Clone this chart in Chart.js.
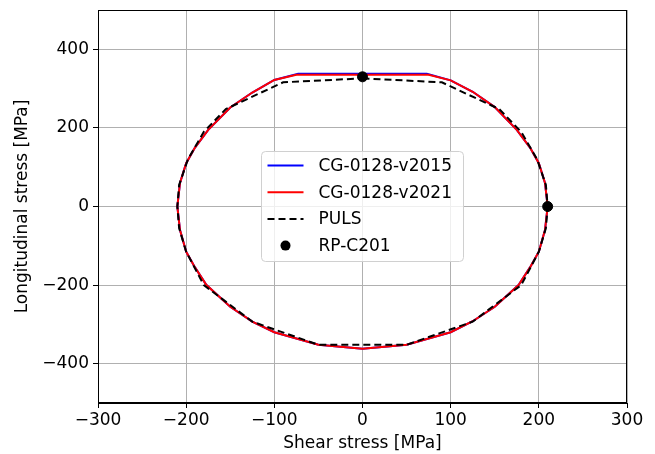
<!DOCTYPE html>
<html>
<head>
<meta charset="utf-8">
<script src="https://cdn.jsdelivr.net/npm/chart.js@4"></script>
<style>
  html, body { margin: 0; padding: 0; background: #fff; }
  #wrap { width: 655px; height: 454px; }
</style>
</head>
<body>
<div id="wrap"><canvas id="chart"></canvas></div>
<script>
// shear stress (x), longitudinal stress (y), MPa
const v2015X = [0, 73, 100, 125, 150, 175, 190, 200, 207, 210, 207, 200, 190, 177, 150, 125, 100, 50, 0, -50, -100, -125, -150, -177, -190, -200, -207, -210, -207, -200, -190, -175, -150, -125, -100, -73, 0];
const v2015Y = [338, 338, 321, 292, 253, 195, 150, 110, 60, 0, -60, -115, -155, -200, -255, -292, -320, -352, -362, -352, -320, -293, -255, -200, -155, -115, -60, 0, 60, 110, 150, 195, 252, 290, 322, 338, 338];

const v2021X = [0, 75, 100, 125, 150, 175, 190, 200, 207, 210, 207, 200, 190, 177, 150, 125, 100, 50, 0, -50, -100, -125, -150, -177, -190, -200, -207, -210, -207, -200, -190, -175, -150, -125, -100, -75, 0];
const v2021Y = [335, 335, 321, 292, 253, 195, 150, 110, 60, 0, -60, -115, -155, -200, -255, -292, -320, -352, -362, -352, -320, -293, -255, -200, -155, -115, -60, 0, 60, 110, 150, 195, 252, 290, 322, 335, 335];

const pulsX = [0, 90, 155, 180, 198, 208, 210, 208, 200, 180, 125, 50, -50, -125, -180, -200, -208, -210, -208, -198, -180, -155, -90, 0];
const pulsY = [326, 316, 248, 190, 120, 55, 0, -55, -115, -200, -293, -352, -352, -293, -200, -115, -55, 0, 55, 120, 190, 248, 316, 326];

const rpX = [0, 210];
const rpY = [330, 0];

const xTicks = [-300, -200, -100, 0, 100, 200, 300];
const yTicks = [-400, -200, 0, 200, 400];

const pts = (xs, ys) => xs.map((x, i) => ({ x: x, y: ys[i] }));
const FONT = "'DejaVu Sans', sans-serif";
const minus = v => String(v).replace('-', '\u2212');

const frame = {
  id: 'frame',
  afterDatasetsDraw(chart) {
    const { ctx, chartArea: a } = chart;
    ctx.save();
    ctx.strokeStyle = '#000';
    ctx.lineWidth = 1;
    ctx.strokeRect(a.left + 0.5, a.top + 0.5, a.right - a.left - 1, a.bottom - a.top - 1);
    ctx.restore();
  }
};

const legendBox = {
  id: 'legendBox',
  afterDraw(chart) {
    const { ctx, chartArea: a } = chart;
    const w = 202, h = 110;
    const cx = (a.left + a.right) / 2, cy = (a.top + a.bottom) / 2;
    const x0 = cx - w / 2, y0 = cy - h / 2;
    ctx.save();
    ctx.beginPath();
    ctx.roundRect(x0, y0, w, h, 4);
    ctx.fillStyle = 'rgba(255,255,255,0.8)';
    ctx.fill();
    ctx.strokeStyle = '#d0d0d0';
    ctx.lineWidth = 1;
    ctx.stroke();
    ctx.font = '17px ' + FONT;
    ctx.textBaseline = 'middle';
    chart.data.datasets.forEach((ds, i) => {
      const y = y0 + 14 + i * 26.7;
      ctx.strokeStyle = ds.borderColor;
      ctx.fillStyle = ds.borderColor;
      ctx.lineWidth = 2;
      if (ds.showLine) {
        ctx.setLineDash(ds.borderDash || []);
        ctx.beginPath();
        ctx.moveTo(x0 + 6, y);
        ctx.lineTo(x0 + 42, y);
        ctx.stroke();
        ctx.setLineDash([]);
      } else {
        ctx.beginPath();
        ctx.arc(x0 + 24, y, 5, 0, Math.PI * 2);
        ctx.fill();
      }
      ctx.fillStyle = '#000';
      ctx.fillText(ds.label, x0 + 57, y + 1);
    });
    ctx.restore();
  }
};

new Chart(document.getElementById('chart'), {
  type: 'scatter',
  data: {
    datasets: [
      { label: 'CG-0128-v2015', data: pts(v2015X, v2015Y), showLine: true, borderColor: '#0000ff', borderWidth: 2, pointRadius: 0, order: 4 },
      { label: 'CG-0128-v2021', data: pts(v2021X, v2021Y), showLine: true, borderColor: '#ff0000', borderWidth: 2, pointRadius: 0, order: 3 },
      { label: 'PULS', data: pts(pulsX, pulsY), showLine: true, borderColor: '#000000', borderWidth: 2, borderDash: [7, 4], pointRadius: 0, order: 2 },
      { label: 'RP-C201', data: pts(rpX, rpY), showLine: false, borderColor: '#000000', backgroundColor: '#000000', pointRadius: 5, order: 1 }
    ]
  },
  options: {
    responsive: true,
    maintainAspectRatio: false,
    animation: false,
    layout: { padding: { left: 0, right: 28, top: 10, bottom: 0 } },
    plugins: { legend: { display: false }, tooltip: { enabled: false } },
    scales: {
      x: {
        min: -300, max: 300,
        afterBuildTicks: s => { s.ticks = xTicks.map(v => ({ value: v })); },
        afterFit: s => { s.height = 51; },
        grid: { color: '#b0b0b0', lineWidth: 1, tickLength: 5, tickColor: '#000' },
        border: { color: '#000' },
        ticks: { color: '#000', font: { family: FONT, size: 17 }, padding: 2, maxRotation: 0, callback: v => minus(v) },
        title: { display: true, text: 'Shear stress [MPa]', color: '#000', font: { family: FONT, size: 17 }, padding: { top: 0, bottom: 0 } }
      },
      y: {
        min: -500, max: 500,
        afterBuildTicks: s => { s.ticks = yTicks.map(v => ({ value: v })); },
        afterFit: s => { s.width = 98; s.paddingTop = 0; s.paddingBottom = 0; },
        grid: { color: '#b0b0b0', lineWidth: 1, tickLength: 5, tickColor: '#000' },
        border: { color: '#000' },
        ticks: { color: '#000', font: { family: FONT, size: 17 }, padding: 4, callback: v => minus(v) },
        title: { display: true, text: 'Longitudinal stress [MPa]', color: '#000', font: { family: FONT, size: 17 }, padding: { top: 12, bottom: 0 } }
      }
    }
  },
  plugins: [frame, legendBox]
});
</script>
</body>
</html>
